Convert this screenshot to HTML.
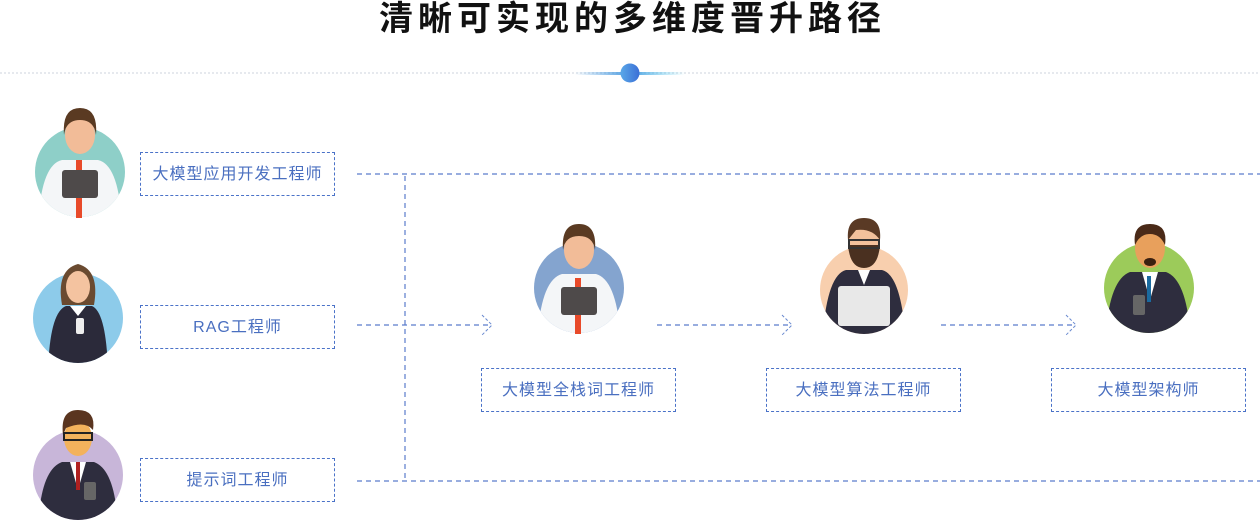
<!DOCTYPE html>
<html><head><meta charset="utf-8">
<style>
body{margin:0;width:1260px;height:520px;background:#fff;overflow:hidden;position:relative;font-family:"Liberation Sans","Noto Sans CJK SC",sans-serif;}
.t{position:absolute;left:0;width:1260px;top:-1px;text-align:center;font-size:34px;font-weight:bold;letter-spacing:5px;text-indent:5px;color:#111;line-height:40px;}
.b{position:absolute;width:193px;height:42px;border:1px dashed #4a72c8;color:#4a6fc0;font-size:16px;line-height:44px;text-align:center;letter-spacing:1px;}
svg{position:absolute;left:0;top:0}
</style></head><body>
<svg width="1260" height="520">
<defs>
<linearGradient id="gl" x1="0" x2="1"><stop offset="0" stop-color="#4a9be0" stop-opacity="0"/><stop offset="0.5" stop-color="#4a9be0"/><stop offset="1" stop-color="#4ad0f0" stop-opacity="0"/></linearGradient>
<linearGradient id="gd" x1="0" x2="1"><stop offset="0" stop-color="#5aa8e8"/><stop offset="1" stop-color="#3b6fd6"/></linearGradient>
<clipPath id="c1"><circle cx="80" cy="172" r="45"/></clipPath>
<clipPath id="c2"><circle cx="78" cy="318" r="45"/></clipPath>
<clipPath id="c3"><circle cx="78" cy="475" r="45"/></clipPath>
<clipPath id="c4"><circle cx="579" cy="288" r="45"/></clipPath>
<clipPath id="c5"><circle cx="864" cy="290" r="44"/></clipPath>
<clipPath id="c6"><circle cx="1149" cy="288" r="45"/></clipPath>
</defs>
<line x1="0" y1="73" x2="1260" y2="73" stroke="#ccd3de" stroke-dasharray="2 2"/>
<rect x="575" y="72" width="110" height="3" fill="url(#gl)"/>
<circle cx="630" cy="73" r="9.5" fill="url(#gd)"/>
<g stroke="#5a7ccc" stroke-width="1.2" stroke-dasharray="5 4" fill="none">
<line x1="357" y1="174" x2="1260" y2="174"/>
<line x1="357" y1="481" x2="1260" y2="481"/>
<line x1="405" y1="176" x2="405" y2="481"/>
<line x1="357" y1="325" x2="492" y2="325"/>
<line x1="657" y1="325" x2="792" y2="325"/>
<line x1="941" y1="325" x2="1076" y2="325"/>
</g>
<g stroke="#6a8ad0" stroke-width="1" fill="none" stroke-dasharray="3 2">
<polyline points="482,315 492,325 482,335"/><polyline points="782,315 792,325 782,335"/><polyline points="1066,315 1076,325 1066,335"/>
</g>
<circle cx="80" cy="172" r="45" fill="#8ecfc8"/>
<g clip-path="url(#c1)"><path d="M38 230 Q40 165 62 160 L98 160 Q120 165 122 230Z" fill="#f4f6f8"/></g>
<rect x="76" y="160" width="6" height="58" fill="#e84a2a"/>
<rect x="62" y="170" width="36" height="28" rx="3" fill="#4e4a4a"/>
<ellipse cx="80" cy="135" rx="15" ry="19" fill="#f2bc98"/>
<path d="M64 135 Q62 108 80 108 Q98 108 96 135 Q94 120 80 120 Q66 120 64 135Z" fill="#5a3a22"/>
<circle cx="78" cy="318" r="45" fill="#8dcbea"/>
<path d="M62 305 Q56 270 78 264 Q100 270 94 305Z" fill="#6a4a30"/>
<g clip-path="url(#c2)"><path d="M48 370 Q50 312 66 306 L92 306 Q106 312 108 370Z" fill="#2b2a3a"/></g>
<path d="M70 306 L78 316 L86 306Z" fill="#fff"/>
<rect x="76" y="318" width="8" height="16" rx="2" fill="#eee"/>
<ellipse cx="78" cy="287" rx="12" ry="16" fill="#f4c3a0"/>
<circle cx="78" cy="475" r="45" fill="#c8b6d9"/>
<g clip-path="url(#c3)"><path d="M38 530 Q40 470 62 462 L94 462 Q116 470 118 530Z" fill="#2e2d3e"/></g>
<path d="M70 462 L78 490 L86 462Z" fill="#fff"/><rect x="76" y="462" width="4" height="28" fill="#b02020"/>
<rect x="84" y="482" width="12" height="18" rx="2" fill="#666"/>
<ellipse cx="78" cy="438" rx="14" ry="18" fill="#f3b25c"/>
<path d="M63 435 Q60 410 78 410 Q96 410 93 430 Q85 420 66 428Z" fill="#5a3520"/>
<rect x="64" y="433" width="28" height="7" fill="none" stroke="#222" stroke-width="2"/>
<circle cx="579" cy="288" r="45" fill="#84a4cf"/>
<g clip-path="url(#c4)"><path d="M537 345 Q540 280 562 274 L596 274 Q618 280 621 345Z" fill="#f4f6f8"/></g>
<rect x="575" y="278" width="6" height="56" fill="#e84a2a"/>
<rect x="561" y="287" width="36" height="28" rx="3" fill="#4e4a4a"/>
<ellipse cx="579" cy="250" rx="15" ry="19" fill="#f2bc98"/>
<path d="M563 250 Q561 224 579 224 Q597 224 595 250 Q593 236 579 236 Q565 236 563 250Z" fill="#5a3a22"/>
<circle cx="864" cy="290" r="44" fill="#f8cfae"/>
<g clip-path="url(#c5)"><path d="M822 345 Q826 275 846 270 L882 270 Q902 275 906 345Z" fill="#2e2d3e"/></g>
<path d="M858 270 L864 285 L870 270Z" fill="#fff"/>
<rect x="838" y="286" width="52" height="40" rx="3" fill="#e8e8e8"/>
<ellipse cx="864" cy="243" rx="16" ry="20" fill="#f2c19c"/>
<path d="M848 245 Q850 268 864 268 Q878 268 880 245Z" fill="#4a3020"/>
<path d="M848 240 Q846 218 864 218 Q882 218 880 240 Q872 228 856 230Z" fill="#5a3a25"/>
<rect x="849" y="240" width="30" height="8" fill="none" stroke="#333" stroke-width="2"/>
<circle cx="1149" cy="288" r="45" fill="#9ccb5a"/>
<g clip-path="url(#c6)"><path d="M1105 345 Q1108 280 1130 272 L1166 272 Q1188 280 1191 345Z" fill="#2e2d3e"/></g>
<path d="M1142 272 L1150 300 L1158 272Z" fill="#fff"/><rect x="1147" y="276" width="4" height="26" fill="#1a6aa0"/>
<rect x="1133" y="295" width="12" height="20" rx="2" fill="#666"/>
<ellipse cx="1150" cy="248" rx="15" ry="20" fill="#e8a05c"/>
<path d="M1135 245 Q1132 224 1150 224 Q1168 224 1165 245 Q1160 234 1150 234 Q1140 234 1135 245Z" fill="#4a2a18"/>
<ellipse cx="1150" cy="262" rx="6" ry="4" fill="#3a2010"/>
</svg>
<div class="t">清晰可实现的多维度晋升路径</div>
<div class="b" style="left:140px;top:152px">大模型应用开发工程师</div>
<div class="b" style="left:140px;top:305px">RAG工程师</div>
<div class="b" style="left:140px;top:458px">提示词工程师</div>
<div class="b" style="left:481px;top:368px">大模型全栈词工程师</div>
<div class="b" style="left:766px;top:368px">大模型算法工程师</div>
<div class="b" style="left:1051px;top:368px">大模型架构师</div>
</body></html>
